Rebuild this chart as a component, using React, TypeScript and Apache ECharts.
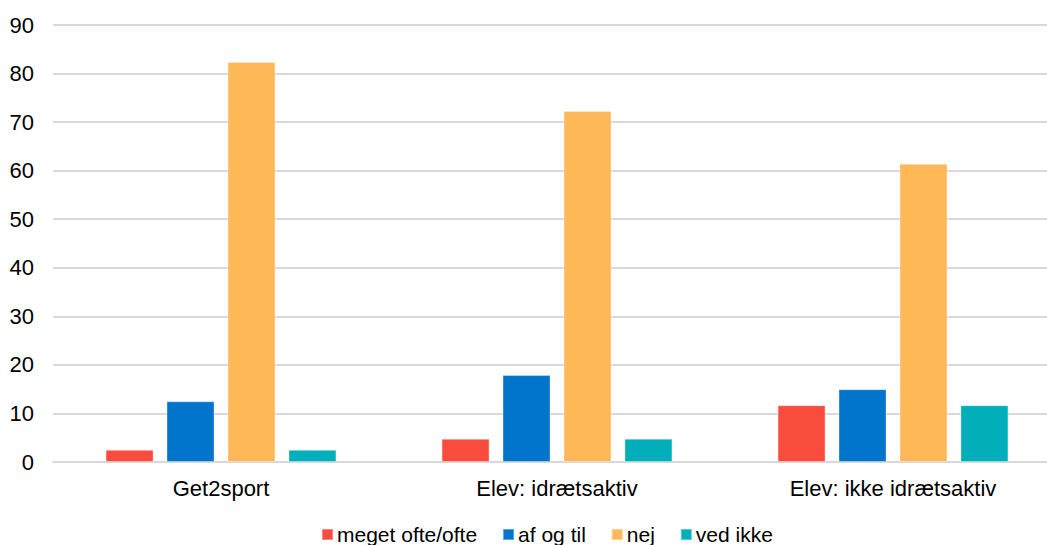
import React, { useEffect, useRef } from "react";
import * as echarts from "echarts";

const categories = ["Get2sport", "Elev: idrætsaktiv", "Elev: ikke idrætsaktiv"];
const seriesNames = ["meget ofte/ofte", "af og til", "nej", "ved ikke"];
const megetOfte = [2.5, 4.8, 11.7];
const afOgTil = [12.5, 17.9, 15.0];
const nej = [82.4, 72.3, 61.4];
const vedIkke = [2.5, 4.8, 11.7];
const colors = ["#F84C3C", "#0174CC", "#FEB857", "#01AEB9"];

export default function App() {
  const ref = useRef<HTMLDivElement>(null);
  useEffect(() => {
    if (!ref.current) return;
    const chart = echarts.init(ref.current, null, { renderer: "svg" });
    const values = [megetOfte, afOgTil, nej, vedIkke];
    const font = "Liberation Sans, Arial, sans-serif";
    chart.setOption({
      animation: false,
      textStyle: { fontFamily: font },
      grid: { left: 53, right: 14, top: 25, bottom: 83, containLabel: false },
      legend: {
        left: 316,
        top: 519,
        itemWidth: 11,
        itemHeight: 11,
        itemGap: 25,
        icon: "rect",
        textStyle: { fontSize: 21, color: "#000", fontFamily: font, padding: [0, 0, 0, -1] },
        data: seriesNames,
      },
      xAxis: {
        type: "category",
        data: categories,
        axisLine: { lineStyle: { color: "#d9d9d9", width: 2 } },
        axisTick: { show: false },
        axisLabel: { fontSize: 22, color: "#000", margin: 15, fontFamily: font },
      },
      yAxis: {
        type: "value",
        min: 0,
        max: 90,
        interval: 10,
        axisLine: { show: false },
        axisTick: { show: false },
        splitLine: { lineStyle: { color: "#d9d9d9", width: 2 } },
        axisLabel: { fontSize: 22, color: "#000", margin: 19, fontFamily: font },
      },
      series: seriesNames.map((name, i) => ({
        name,
        type: "bar",
        data: values[i],
        barWidth: 48,
        barGap: "27%",
        itemStyle: { color: colors[i], borderColor: "rgba(255,255,255,0.35)", borderWidth: 1 },
      })),
    });
    return () => chart.dispose();
  }, []);
  return (
    <div style={{ position: "fixed", left: 0, top: 0, width: 1047, height: 545, overflow: "hidden", background: "#fff" }}>
      <div ref={ref} style={{ width: 1075, height: 545 }} />
    </div>
  );
}
